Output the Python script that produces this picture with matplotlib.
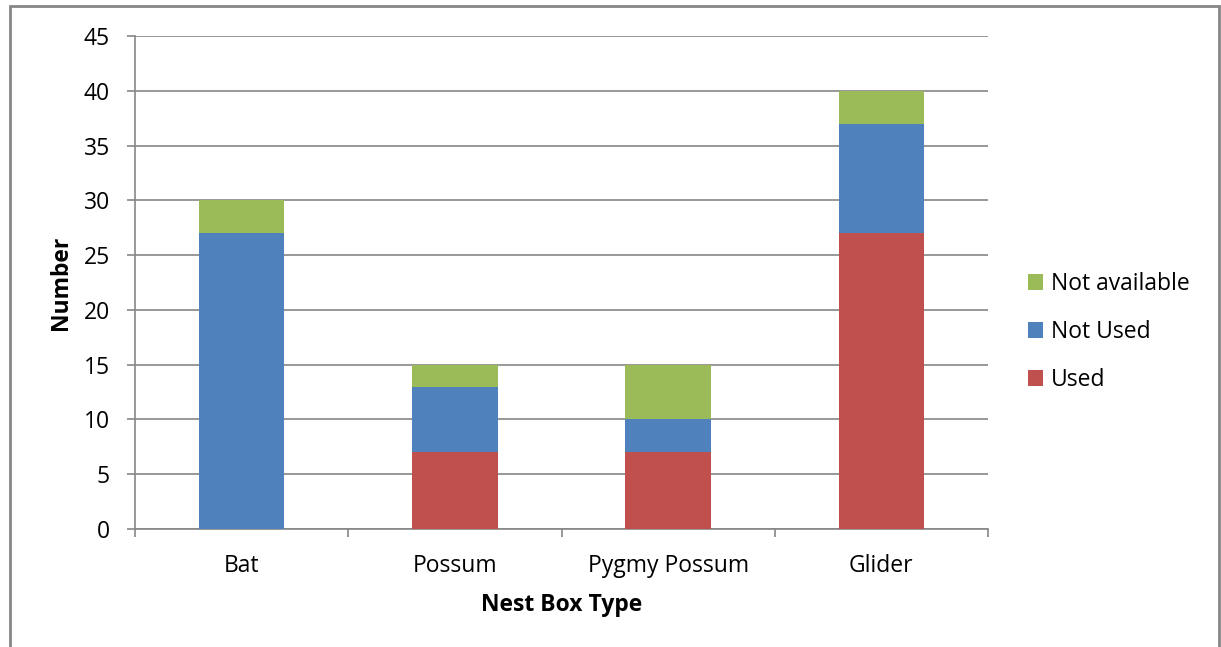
import matplotlib
matplotlib.use("Agg")
import matplotlib.pyplot as plt
from matplotlib.patches import Rectangle
import numpy as np

categories = ["Bat", "Possum", "Pygmy Possum", "Glider"]
used = [0, 7, 7, 27]
not_used = [27, 6, 3, 10]
not_available = [3, 2, 5, 3]
y_ticks = [0, 5, 10, 15, 20, 25, 30, 35, 40, 45]

plt.rcParams['font.family'] = ['Open Sans', 'DejaVu Sans']

FS = 16.5
fig = plt.figure(figsize=(12.21, 6.47), dpi=100)
ax = fig.add_axes([135/1221, 1-529/647, (988-135)/1221, (529-36)/647])

x = np.arange(len(categories))
w = 0.4
c_used = "#C0504D"
c_notused = "#4F81BD"
c_na = "#9BBB59"
b1 = ax.bar(x, used, w, color=c_used, label="Used", zorder=3)
b2 = ax.bar(x, not_used, w, bottom=used, color=c_notused, label="Not Used", zorder=3)
bottom2 = [a + b for a, b in zip(used, not_used)]
b3 = ax.bar(x, not_available, w, bottom=bottom2, color=c_na, label="Not available", zorder=3)

grid_c = "#868686"
ax.set_xlim(-0.5, len(categories) - 0.5)
ax.set_ylim(0, 45)
ax.set_yticks(y_ticks)
ax.set_yticklabels([str(v) for v in y_ticks], fontsize=FS)
ax.yaxis.grid(True, color=grid_c, linewidth=1.2, zorder=0)
ax.set_axisbelow(True)

ax.set_xticks(x)
ax.set_xticklabels(categories, fontsize=FS)
ax.set_xticks(np.arange(len(categories) + 1) - 0.5, minor=True)
ax.tick_params(axis='x', which='major', length=0, pad=18)
ax.tick_params(axis='x', which='minor', length=6, color=grid_c, width=1.2, direction='out')
ax.tick_params(axis='y', length=6, color=grid_c, width=1.2, direction='out', pad=12)

for s in ['top', 'right']:
    ax.spines[s].set_visible(False)
for s in ['left', 'bottom']:
    ax.spines[s].set_color(grid_c)
    ax.spines[s].set_linewidth(1.2)

ax.set_xlabel("Nest Box Type", fontsize=FS, fontweight='bold', labelpad=11)
ax.set_ylabel("Number", fontsize=FS, fontweight='bold', labelpad=8)

handles = [b3, b2, b1]
leg = fig.legend(handles, ["Not available", "Not Used", "Used"],
                 loc='center left', bbox_to_anchor=(1028/1221, 1-332/647),
                 frameon=False, fontsize=FS, handlelength=0.65, handleheight=0.65,
                 handletextpad=0.35, labelspacing=1.05, borderaxespad=0, borderpad=0)

fig.add_artist(Rectangle((10/1221, -0.01), (1219-10)/1221, (1-6/647) + 0.01,
                         transform=fig.transFigure, fill=False,
                         edgecolor=grid_c, linewidth=2, clip_on=False))

fig.savefig("out.png", dpi=100)
